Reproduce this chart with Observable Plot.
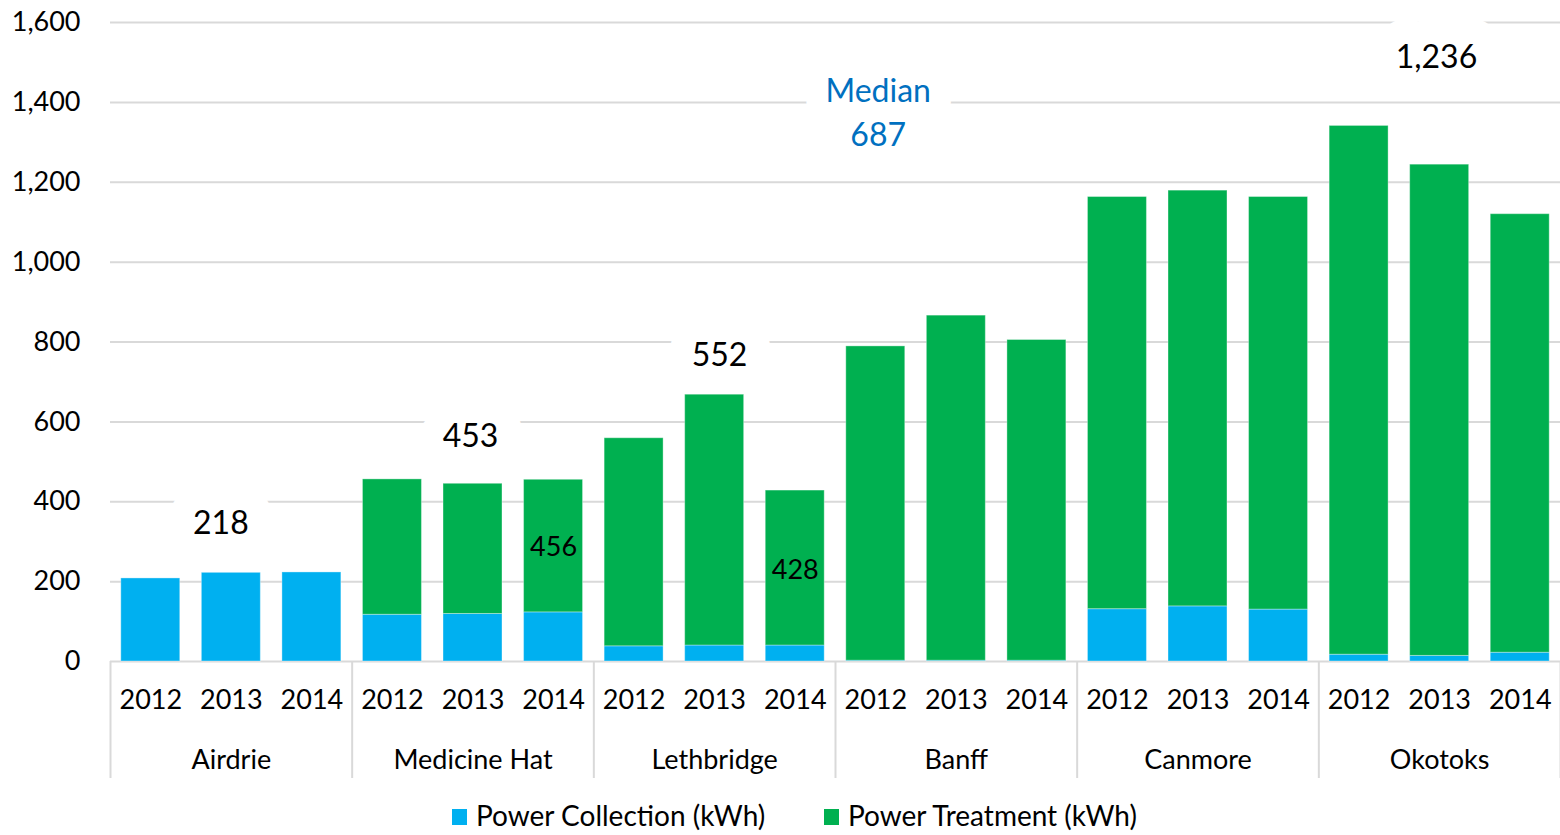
<!DOCTYPE html>
<html>
<head>
<meta charset="utf-8">
<script src="https://cdn.jsdelivr.net/npm/d3@7"></script>
<script src="https://cdn.jsdelivr.net/npm/@observablehq/plot@0.6"></script>
<style>
  html, body { margin: 0; padding: 0; background: #fff; }
  #chart { width: 1560px; }
  #legend {
    width: 1560px; height: 39px; position: relative;
    font-family: "Lato", "Open Sans", sans-serif; font-size: 28px; color: #000;
  }
  .item { position: absolute; top: 0; line-height: 39px; white-space: nowrap; }
  .sw { display: inline-block; width: 15px; height: 16px; vertical-align: middle; margin-right: 9px; position: relative; top: -2px; }
</style>
</head>
<body>
<div id="chart"></div>
<div id="legend"></div>
<script>
// ---- data ----
const cities = ["Airdrie", "Medicine Hat", "Lethbridge", "Banff", "Canmore", "Okotoks"];
const years = ["2012", "2013", "2014"];
const seriesNames = ["Power Collection (kWh)", "Power Treatment (kWh)"];
const seriesColors = ["#00B0F0", "#00B050"];
// per bar, in order city by city, 2012–2014
const collection = [208, 222, 223, 117, 119, 123, 38, 40, 40, 2, 2, 2, 131, 138, 130, 17, 14, 22];
const treatment  = [0, 0, 0, 339, 326, 332, 521, 628, 388, 787, 864, 803, 1032, 1041, 1033, 1324, 1230, 1098];
const yTicks = [0, 200, 400, 600, 800, 1000, 1200, 1400, 1600];
// group average annotations
const groupLabels = ["218", "453", "552", "1,236"];
const groupLabelIndex = [0.87, 3.97, 7.06, 15.96];
const groupLabelValue = [345, 563, 766, 1512];
// median annotation
const medianText = "Median\n687";
const medianIndex = 9.03;
const medianValue = 1380;
// inside bar labels
const innerLabels = ["456", "428"];
const innerIndex = [5, 8];
const innerValue = [285, 228];

// ---- build tables ----
const bars = collection.map((c, i) => ({
  i, city: cities[Math.floor(i / 3)], year: years[i % 3], c, t: treatment[i]
}));
const half = 0.366;
const seps = d3.range(0, cities.length + 1).map(g => g * 3 - 0.5);
const sepBottom = -293;
const groupAnno = groupLabels.map((s, k) => ({s, x: groupLabelIndex[k], y: groupLabelValue[k]}));
const innerAnno = innerLabels.map((s, k) => ({s, x: innerIndex[k], y: innerValue[k]}));
const medianAnno = [{s: medianText, x: medianIndex, y: medianValue}];

const groupOpts = {x: "x", y: "y", text: "s", fontSize: 32};
const medianOpts = {x: "x", y: "y", text: "s", fontSize: 32, lineHeight: 1.375};
const halo = w => ({fill: "#fff", stroke: "#fff", strokeWidth: w, strokeLinejoin: "round"});

const chart = Plot.plot({
  width: 1560,
  height: 796,
  marginLeft: 110,
  marginRight: 0,
  marginTop: 22,
  marginBottom: 135,
  style: {fontFamily: "Lato, 'Open Sans', sans-serif", color: "#000", background: "#fff", overflow: "visible"},
  x: {domain: [-0.5, bars.length - 0.5], axis: null},
  y: {domain: [0, 1600], axis: null},
  marks: [
    Plot.ruleY(yTicks, {stroke: "#d9d9d9", strokeWidth: 2}),
    // white label boxes that interrupt the gridlines (drawn beneath the bars)
    Plot.text(groupAnno, {...groupOpts, ...halo(50)}),
    Plot.text(medianAnno, {...medianOpts, ...halo(44)}),
    Plot.axisY({ticks: yTicks, tickSize: 0, tickPadding: 30, tickFormat: d3.format(","), fontSize: 27, label: null, fill: "#000"}),
    Plot.rectY(bars, {x1: d => d.i - half, x2: d => d.i + half, y1: 0, y2: "c", fill: seriesColors[0], stroke: "#fff", strokeOpacity: 0.35, strokeWidth: 1}),
    Plot.rectY(bars.filter(d => d.t > 0), {x1: d => d.i - half, x2: d => d.i + half, y1: "c", y2: d => d.c + d.t, fill: seriesColors[1], stroke: "#fff", strokeOpacity: 0.35, strokeWidth: 1}),
    Plot.ruleX(seps, {y1: 0, y2: sepBottom, stroke: "#d9d9d9", strokeWidth: 2}),
    Plot.text(bars, {x: "i", y: 0, text: "year", dy: 39, fontSize: 27, fill: "#000"}),
    Plot.text(cities, {x: (d, g) => g * 3 + 1, y: 0, text: d => d, dy: 99, fontSize: 27, fill: "#000"}),
    Plot.text(groupAnno, {...groupOpts, fill: "#000"}),
    Plot.text(medianAnno, {...medianOpts, fill: "#0070C0"}),
    Plot.text(innerAnno, {x: "x", y: "y", text: "s", fontSize: 27, fill: "#000"})
  ]
});
document.getElementById("chart").appendChild(chart);

// legend
const lg = document.getElementById("legend");
const lefts = [452, 824];
seriesNames.forEach((n, k) => {
  const it = document.createElement("div");
  it.className = "item";
  it.style.left = lefts[k] + "px";
  const sw = document.createElement("span");
  sw.className = "sw";
  sw.style.background = seriesColors[k];
  it.appendChild(sw);
  it.appendChild(document.createTextNode(n));
  lg.appendChild(it);
});
</script>
</body>
</html>
